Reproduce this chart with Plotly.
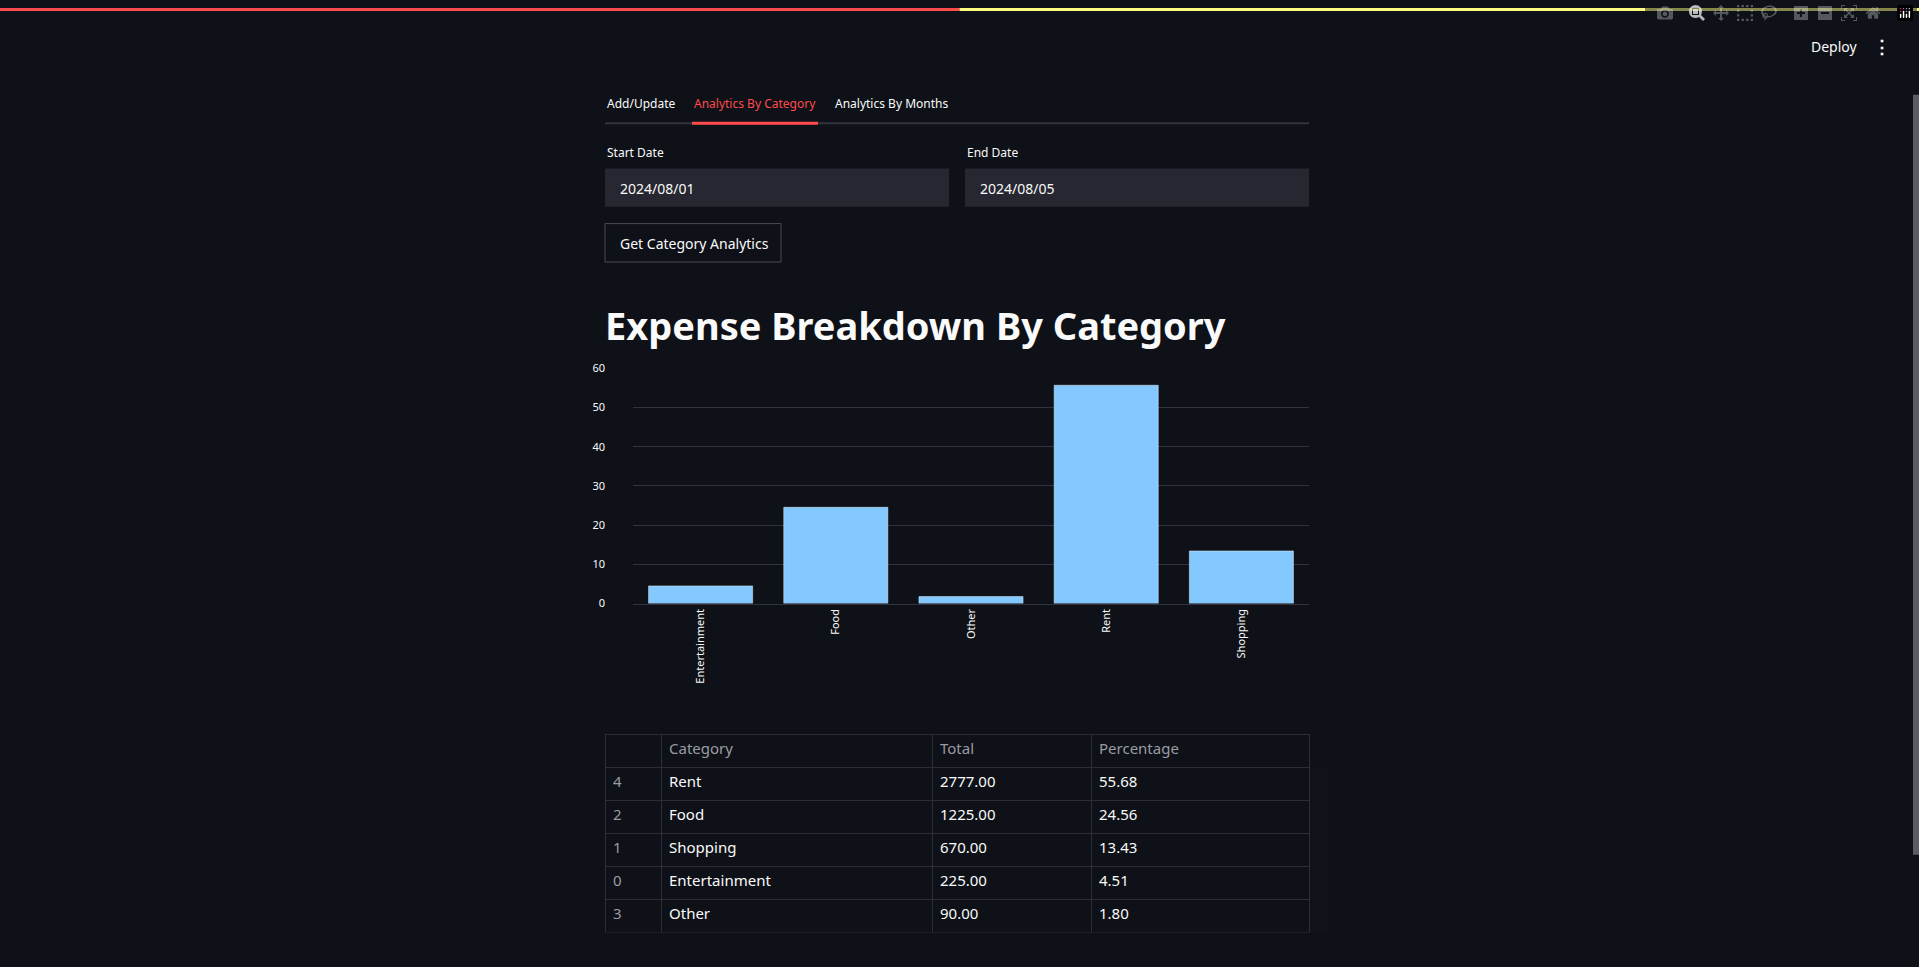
import plotly.graph_objects as go

W, H = 1919, 967

categories = ["Entertainment", "Food", "Other", "Rent", "Shopping"]
percentages = [4.51, 24.56, 1.80, 55.68, 13.43]

table_index = ["4", "2", "1", "0", "3"]
table_category = ["Rent", "Food", "Shopping", "Entertainment", "Other"]
table_total = ["2777.00", "1225.00", "670.00", "225.00", "90.00"]
table_pct = ["55.68", "24.56", "13.43", "4.51", "1.80"]

BG = "#0e1117"
FONT = "Noto Sans"


def px(x):
    return x / W


def py(y):
    return 1 - y / H


fig = go.Figure()

fig.add_trace(go.Bar(
    x=categories, y=percentages, marker_color="#83c9ff",
    xaxis="x", yaxis="y", hoverinfo="x+y",
))

fig.add_trace(go.Table(
    domain=dict(x=[px(605), px(1309)], y=[py(940), py(738)]),
    columnwidth=[56, 271, 159, 218],
    header=dict(
        values=["", "Category", "Total", "Percentage"],
        fill_color=BG, line_color="#2b2e38", height=33, align="left",
        font=dict(family=FONT, size=15, color="#9a9ca3"),
    ),
    cells=dict(
        values=[table_index, table_category, table_total, table_pct],
        fill_color=BG, line_color="#2b2e38", height=33, align="left",
        font=dict(family=FONT, size=15, color=["#9a9ca3", "#fafafa", "#fafafa", "#fafafa"]),
    ),
))

shapes = [
    dict(type="rect", xref="paper", yref="paper", x0=0, x1=0.5, y0=py(3), y1=1,
         fillcolor="#ff4b4b", line_width=0),
    dict(type="rect", xref="paper", yref="paper", x0=0.5, x1=1, y0=py(3), y1=1,
         fillcolor="#fffd80", line_width=0),
    dict(type="line", xref="paper", yref="paper", x0=px(605), x1=px(1309), y0=py(117), y1=py(117),
         line=dict(color="#31333f", width=2)),
    dict(type="line", xref="paper", yref="paper", x0=px(692), x1=px(818), y0=py(117), y1=py(117),
         line=dict(color="#ff4b4b", width=3)),
    dict(type="rect", xref="paper", yref="paper", x0=px(605), x1=px(949), y0=py(202), y1=py(163),
         fillcolor="#262730", line_width=0),
    dict(type="rect", xref="paper", yref="paper", x0=px(965), x1=px(1309), y0=py(202), y1=py(163),
         fillcolor="#262730", line_width=0),
    dict(type="rect", xref="paper", yref="paper", x0=px(605), x1=px(781), y0=py(258), y1=py(219),
         fillcolor=BG, line=dict(color="#4a4c55", width=1)),
    dict(type="rect", xref="paper", yref="paper", x0=px(1913), x1=px(1919), y0=py(860), y1=py(88),
         fillcolor="#5a5c63", line_width=0),
]


def txt(x, y, s, size=14, color="#fafafa", bold=False, xanchor="left"):
    return dict(xref="paper", yref="paper", x=px(x), y=py(y), text=f"<b>{s}</b>" if bold else s,
                showarrow=False, xanchor=xanchor, yanchor="middle",
                font=dict(family=FONT, size=size, color=color))


annotations = [
    txt(1834, 39, "Deploy", 14, xanchor="center"),
    txt(1882, 39, "⋮", 18, bold=True, xanchor="center"),
    txt(605, 97, "Add/Update", 12),
    txt(692, 97, "Analytics By Category", 12, color="#ff4b4b"),
    txt(833, 97, "Analytics By Months", 12),
    txt(605, 147, "Start Date", 12),
    txt(965, 147, "End Date", 12),
    txt(618, 183, "2024/08/01", 14),
    txt(978, 183, "2024/08/05", 14),
    txt(618, 239, "Get Category Analytics", 14),
    txt(603, 322, "Expense Breakdown By Category", 38, bold=True),
]

fig.update_layout(
    width=W, height=H, autosize=False,
    margin=dict(l=0, r=0, t=0, b=0),
    paper_bgcolor=BG, plot_bgcolor=BG,
    showlegend=False, bargap=0.23,
    shapes=shapes, annotations=annotations,
    xaxis=dict(domain=[px(633), px(1309)], anchor="y", tickangle=-90,
               tickfont=dict(family=FONT, size=11, color="#fafafa"),
               showgrid=False, showline=True, linecolor="#31333f", ticks=""),
    yaxis=dict(domain=[py(605), py(366)], anchor="free", position=px(605), range=[0, 60],
               dtick=10, tickfont=dict(family=FONT, size=11, color="#fafafa"),
               gridcolor="#31333f", zeroline=False, ticks=""),
)

fig.write_html("out.html", post_script=(
    "document.body.style.margin='0';document.body.style.overflow='hidden';"
    "document.body.style.background='#0e1117';"
))
